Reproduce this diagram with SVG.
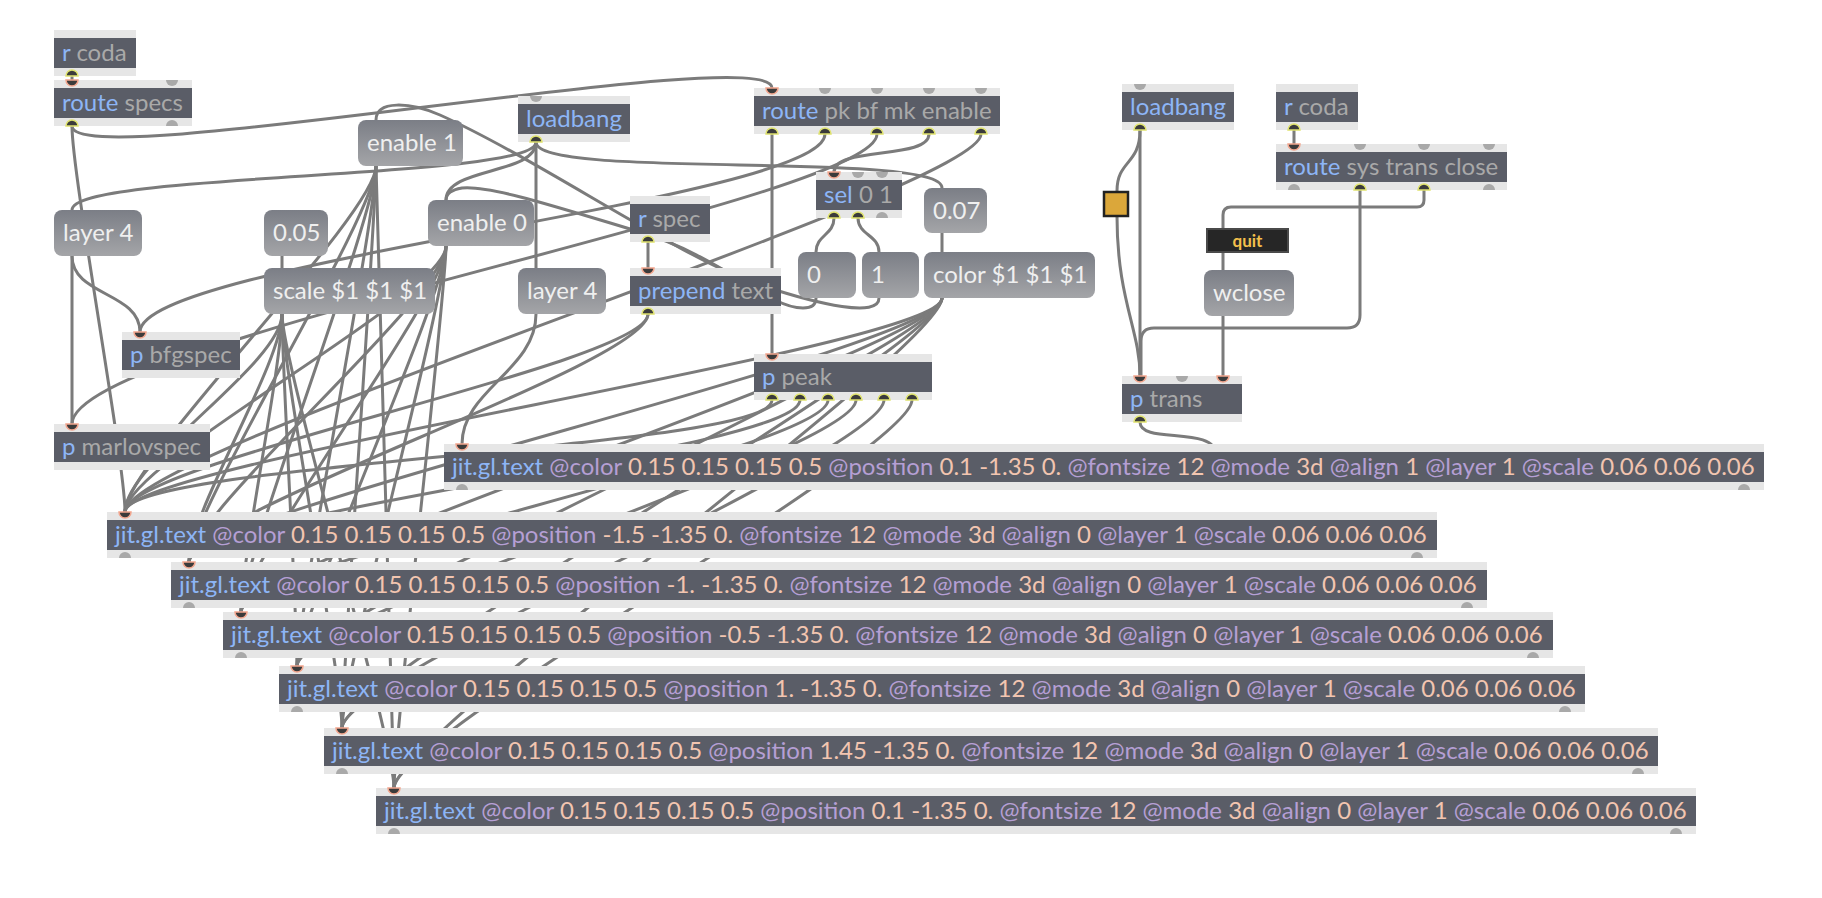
<svg xmlns="http://www.w3.org/2000/svg" xmlns:xlink="http://www.w3.org/1999/xlink" width="1822" height="898" viewBox="0 0 1822 898">
<style>
.b{fill:#5a5d67}
.s{fill:#e6e6e6}
.m{fill:url(#g)}
text{font-family:Lato,"Noto Sans","DejaVu Sans",sans-serif;font-size:24px}
.n{fill:#8db5f6}
.a{fill:#a9a9a9}
.k{fill:#b59fd4}
.v{fill:#f2c5b0}
.mt{fill:#efefef}
.w{fill:none;stroke:#7b7b7b;stroke-width:3;stroke-linecap:round}
.pi{fill:#3b3b3b;stroke:#f2a58d;stroke-width:1.5}
.po{fill:#3b3b3b;stroke:#dfe26e;stroke-width:1.5}
.pg{fill:#a9a9a9}
</style>
<defs>
<linearGradient id="g" x1="0" y1="0" x2="0" y2="1"><stop offset="0" stop-color="#7b7e86"/><stop offset="1" stop-color="#a4a5a8"/></linearGradient>
<path id="pin" d="M-6,0A6,6 0 0 0 6,0Z"/>
<path id="pout" d="M-6,0A6,6 0 0 1 6,0Z"/>
</defs>
<rect width="1822" height="898" fill="#ffffff"/>
<g id="connectors" class="w">
<path d="M72,76L72,80"/>
<path d="M72,126C72,175 772,40 772,88"/>
<path d="M72,126C72,176 125,462 125,512"/>
<path d="M72,256L72,424"/>
<path d="M72,256C72,296 140,292 140,332"/>
<path d="M536,142C536,180 72,172 72,210"/>
<path d="M536,142C536,175 446,167 446,200"/>
<path d="M536,142L536,268"/>
<path d="M536,142C536,180 942,150 942,188"/>
<path d="M282,256L282,268"/>
<path d="M942,233L942,252"/>
<path d="M648,242L648,268"/>
<path d="M772,134L772,354"/>
<path d="M825,134C825,200 140,262 140,332"/>
<path d="M877,134C877,200 72,340 72,424"/>
<path d="M929,134C929,160 834,146 834,172"/>
<path d="M981,134C981,190 125,450 125,512"/>
<path d="M834,218C834,235 816,235 816,252"/>
<path d="M858,218C858,235 879,235 879,252"/>
<path d="M816,298C816,312 795,310 775,300C740,282 700,250 640,232C560,208 490,185 462,188C450,190 446,194 446,200"/>
<path d="M879,298C879,318 820,305 760,285C680,258 540,160 440,115C410,102 376,100 376,120"/>
<path d="M536,314C536,370 462,390 462,444"/>
<path d="M648,314C648,364 125,462 125,512"/>
<path d="M648,314C648,364 189,512 189,562"/>
<path d="M376,166C376,216 125,462 125,512"/>
<path d="M376,166C376,216 189,512 189,562"/>
<path d="M376,166C376,216 241,562 241,612"/>
<path d="M376,166C376,216 297,616 297,666"/>
<path d="M376,166C376,216 342,678 342,728"/>
<path d="M376,166C376,216 394,738 394,788"/>
<path d="M446,246C446,296 125,462 125,512"/>
<path d="M446,246C446,296 189,512 189,562"/>
<path d="M446,246C446,296 241,562 241,612"/>
<path d="M446,246C446,296 297,616 297,666"/>
<path d="M446,246C446,296 342,678 342,728"/>
<path d="M446,246C446,296 394,738 394,788"/>
<path d="M282,314C282,364 125,462 125,512"/>
<path d="M282,314C282,364 189,512 189,562"/>
<path d="M282,314C282,364 241,562 241,612"/>
<path d="M282,314C282,364 297,616 297,666"/>
<path d="M282,314C282,364 342,678 342,728"/>
<path d="M282,314C282,364 394,738 394,788"/>
<path d="M942,298C942,348 125,462 125,512"/>
<path d="M942,298C942,348 189,512 189,562"/>
<path d="M942,298C942,348 241,562 241,612"/>
<path d="M942,298C942,348 297,616 297,666"/>
<path d="M942,298C942,348 342,678 342,728"/>
<path d="M942,298C942,348 394,738 394,788"/>
<path d="M772,400C772,450 125,462 125,512"/>
<path d="M800,400C800,450 189,512 189,562"/>
<path d="M828,400C828,450 241,562 241,612"/>
<path d="M856,400C856,450 297,616 297,666"/>
<path d="M884,400C884,450 342,678 342,728"/>
<path d="M912,400C912,450 394,738 394,788"/>
<path d="M1294,130L1294,144"/>
<path d="M1140,130C1140,165 1117,160 1117,191"/>
<path d="M1117,216C1117,300 1140,330 1140,376"/>
<path d="M1140,130L1140,376"/>
<path d="M1360,190V315Q1360,328 1347,328H1154Q1141,328 1141,341V376"/>
<path d="M1424,190V200Q1424,207 1417,207H1231Q1223,207 1223,215V270"/>
<path d="M1223,316L1223,376"/>
<path d="M1140,422C1140,445 1216,425 1216,455"/>
</g>
<g id="rcoda1"><rect class="s" x="54" y="30" width="82" height="46"/><rect class="b" x="54" y="38" width="82" height="30"/><text x="62" y="61"><tspan class="n">r</tspan><tspan class="a"> coda</tspan></text><use xlink:href="#pout" x="72" y="76" class="po"/></g>
<g id="routespecs"><rect class="s" x="54" y="80" width="138" height="46"/><rect class="b" x="54" y="88" width="138" height="30"/><text x="62" y="111"><tspan class="n">route</tspan><tspan class="a"> specs</tspan></text><use xlink:href="#pin" x="72" y="80" class="pi"/><use xlink:href="#pin" x="172" y="80" class="pg"/><use xlink:href="#pout" x="72" y="126" class="po"/><use xlink:href="#pout" x="172" y="126" class="pg"/></g>
<g id="enable1"><rect class="m" x="358" y="120" width="105" height="46" rx="8"/><text class="mt" x="367" y="151">enable 1</text></g>
<g id="loadbang1"><rect class="s" x="518" y="96" width="112" height="46"/><rect class="b" x="518" y="104" width="112" height="30"/><text class="n" x="526" y="127">loadbang</text><use xlink:href="#pin" x="536" y="96" class="pg"/><use xlink:href="#pout" x="536" y="142" class="po"/></g>
<g id="layer4L"><rect class="m" x="54" y="210" width="88" height="46" rx="8"/><text class="mt" x="63" y="241">layer 4</text></g>
<g id="m005"><rect class="m" x="264" y="210" width="64" height="46" rx="8"/><text class="mt" x="273" y="241">0.05</text></g>
<g id="enable0"><rect class="m" x="428" y="200" width="106" height="46" rx="8"/><text class="mt" x="437" y="231">enable 0</text></g>
<g id="scale"><rect class="m" x="264" y="268" width="171" height="46" rx="8"/><text class="mt" x="273" y="299">scale $1 $1 $1</text></g>
<g id="layer4R"><rect class="m" x="518" y="268" width="88" height="46" rx="8"/><text class="mt" x="527" y="299">layer 4</text></g>
<g id="rspec"><rect class="s" x="630" y="196" width="80" height="46"/><rect class="b" x="630" y="204" width="80" height="30"/><text x="638" y="227"><tspan class="n">r</tspan><tspan class="a"> spec</tspan></text><use xlink:href="#pout" x="648" y="242" class="po"/></g>
<g id="prepend"><rect class="s" x="630" y="268" width="151" height="46"/><rect class="b" x="630" y="276" width="151" height="30"/><text x="638" y="299"><tspan class="n">prepend</tspan><tspan class="a"> text</tspan></text><use xlink:href="#pin" x="648" y="268" class="pi"/><use xlink:href="#pout" x="648" y="314" class="po"/></g>
<g id="routepk"><rect class="s" x="754" y="88" width="246" height="46"/><rect class="b" x="754" y="96" width="246" height="30"/><text x="762" y="119"><tspan class="n">route</tspan><tspan class="a"> pk bf mk enable</tspan></text><use xlink:href="#pin" x="772" y="88" class="pi"/><use xlink:href="#pin" x="825" y="88" class="pg"/><use xlink:href="#pin" x="877" y="88" class="pg"/><use xlink:href="#pin" x="929" y="88" class="pg"/><use xlink:href="#pin" x="981" y="88" class="pg"/><use xlink:href="#pout" x="772" y="134" class="po"/><use xlink:href="#pout" x="825" y="134" class="po"/><use xlink:href="#pout" x="877" y="134" class="po"/><use xlink:href="#pout" x="929" y="134" class="po"/><use xlink:href="#pout" x="981" y="134" class="po"/></g>
<g id="sel"><rect class="s" x="816" y="172" width="86" height="46"/><rect class="b" x="816" y="180" width="86" height="30"/><text x="824" y="203"><tspan class="n">sel</tspan><tspan class="a"> 0 1</tspan></text><use xlink:href="#pin" x="834" y="172" class="pi"/><use xlink:href="#pin" x="858" y="172" class="pg"/><use xlink:href="#pin" x="882" y="172" class="pg"/><use xlink:href="#pout" x="834" y="218" class="po"/><use xlink:href="#pout" x="858" y="218" class="po"/><use xlink:href="#pout" x="882" y="218" class="pg"/></g>
<g id="m007"><rect class="m" x="924" y="188" width="63" height="45" rx="8"/><text class="mt" x="933" y="219">0.07</text></g>
<g id="msg0"><rect class="m" x="798" y="252" width="58" height="46" rx="8"/><text class="mt" x="807" y="283">0</text></g>
<g id="msg1"><rect class="m" x="862" y="252" width="57" height="46" rx="8"/><text class="mt" x="871" y="283">1</text></g>
<g id="color"><rect class="m" x="924" y="252" width="171" height="46" rx="8"/><text class="mt" x="933" y="283">color $1 $1 $1</text></g>
<g id="ppeak"><rect class="s" x="754" y="354" width="178" height="46"/><rect class="b" x="754" y="362" width="178" height="30"/><text x="762" y="385"><tspan class="n">p</tspan><tspan class="a"> peak</tspan></text><use xlink:href="#pin" x="772" y="354" class="pi"/><use xlink:href="#pout" x="772" y="400" class="po"/><use xlink:href="#pout" x="800" y="400" class="po"/><use xlink:href="#pout" x="828" y="400" class="po"/><use xlink:href="#pout" x="856" y="400" class="po"/><use xlink:href="#pout" x="884" y="400" class="po"/><use xlink:href="#pout" x="912" y="400" class="po"/></g>
<g id="bfgspec"><rect class="s" x="122" y="332" width="118" height="46"/><rect class="b" x="122" y="340" width="118" height="30"/><text x="130" y="363"><tspan class="n">p</tspan><tspan class="a"> bfgspec</tspan></text><use xlink:href="#pin" x="140" y="332" class="pi"/></g>
<g id="marlovspec"><rect class="s" x="54" y="424" width="156" height="46"/><rect class="b" x="54" y="432" width="156" height="30"/><text x="62" y="455"><tspan class="n">p</tspan><tspan class="a"> marlovspec</tspan></text><use xlink:href="#pin" x="72" y="424" class="pi"/></g>
<g id="row1"><rect class="s" x="444" y="444" width="1320" height="46"/><rect class="b" x="444" y="452" width="1320" height="30"/><text x="452" y="475"><tspan class="n">jit.gl.text</tspan><tspan class="k"> @color</tspan><tspan class="v"> 0.15 0.15 0.15 0.5</tspan><tspan class="k"> @position</tspan><tspan class="v"> 0.1 -1.35 0.</tspan><tspan class="k"> @fontsize</tspan><tspan class="v"> 12</tspan><tspan class="k"> @mode</tspan><tspan class="v"> 3d</tspan><tspan class="k"> @align</tspan><tspan class="v"> 1</tspan><tspan class="k"> @layer</tspan><tspan class="v"> 1</tspan><tspan class="k"> @scale</tspan><tspan class="v"> 0.06 0.06 0.06</tspan></text><use xlink:href="#pin" x="462" y="444" class="pi"/><use xlink:href="#pout" x="462" y="490" class="pg"/><use xlink:href="#pout" x="1744" y="490" class="pg"/></g>
<g id="row2"><rect class="s" x="107" y="512" width="1330" height="46"/><rect class="b" x="107" y="520" width="1330" height="30"/><text x="115" y="543"><tspan class="n">jit.gl.text</tspan><tspan class="k"> @color</tspan><tspan class="v"> 0.15 0.15 0.15 0.5</tspan><tspan class="k"> @position</tspan><tspan class="v"> -1.5 -1.35 0.</tspan><tspan class="k"> @fontsize</tspan><tspan class="v"> 12</tspan><tspan class="k"> @mode</tspan><tspan class="v"> 3d</tspan><tspan class="k"> @align</tspan><tspan class="v"> 0</tspan><tspan class="k"> @layer</tspan><tspan class="v"> 1</tspan><tspan class="k"> @scale</tspan><tspan class="v"> 0.06 0.06 0.06</tspan></text><use xlink:href="#pin" x="125" y="512" class="pi"/><use xlink:href="#pout" x="125" y="558" class="pg"/><use xlink:href="#pout" x="1417" y="558" class="pg"/></g>
<g id="row3"><rect class="s" x="171" y="562" width="1316" height="46"/><rect class="b" x="171" y="570" width="1316" height="30"/><text x="179" y="593"><tspan class="n">jit.gl.text</tspan><tspan class="k"> @color</tspan><tspan class="v"> 0.15 0.15 0.15 0.5</tspan><tspan class="k"> @position</tspan><tspan class="v"> -1. -1.35 0.</tspan><tspan class="k"> @fontsize</tspan><tspan class="v"> 12</tspan><tspan class="k"> @mode</tspan><tspan class="v"> 3d</tspan><tspan class="k"> @align</tspan><tspan class="v"> 0</tspan><tspan class="k"> @layer</tspan><tspan class="v"> 1</tspan><tspan class="k"> @scale</tspan><tspan class="v"> 0.06 0.06 0.06</tspan></text><use xlink:href="#pin" x="189" y="562" class="pi"/><use xlink:href="#pout" x="189" y="608" class="pg"/><use xlink:href="#pout" x="1467" y="608" class="pg"/></g>
<g id="row4"><rect class="s" x="223" y="612" width="1330" height="46"/><rect class="b" x="223" y="620" width="1330" height="30"/><text x="231" y="643"><tspan class="n">jit.gl.text</tspan><tspan class="k"> @color</tspan><tspan class="v"> 0.15 0.15 0.15 0.5</tspan><tspan class="k"> @position</tspan><tspan class="v"> -0.5 -1.35 0.</tspan><tspan class="k"> @fontsize</tspan><tspan class="v"> 12</tspan><tspan class="k"> @mode</tspan><tspan class="v"> 3d</tspan><tspan class="k"> @align</tspan><tspan class="v"> 0</tspan><tspan class="k"> @layer</tspan><tspan class="v"> 1</tspan><tspan class="k"> @scale</tspan><tspan class="v"> 0.06 0.06 0.06</tspan></text><use xlink:href="#pin" x="241" y="612" class="pi"/><use xlink:href="#pout" x="241" y="658" class="pg"/><use xlink:href="#pout" x="1533" y="658" class="pg"/></g>
<g id="row5"><rect class="s" x="279" y="666" width="1306" height="46"/><rect class="b" x="279" y="674" width="1306" height="30"/><text x="287" y="697"><tspan class="n">jit.gl.text</tspan><tspan class="k"> @color</tspan><tspan class="v"> 0.15 0.15 0.15 0.5</tspan><tspan class="k"> @position</tspan><tspan class="v"> 1. -1.35 0.</tspan><tspan class="k"> @fontsize</tspan><tspan class="v"> 12</tspan><tspan class="k"> @mode</tspan><tspan class="v"> 3d</tspan><tspan class="k"> @align</tspan><tspan class="v"> 0</tspan><tspan class="k"> @layer</tspan><tspan class="v"> 1</tspan><tspan class="k"> @scale</tspan><tspan class="v"> 0.06 0.06 0.06</tspan></text><use xlink:href="#pin" x="297" y="666" class="pi"/><use xlink:href="#pout" x="297" y="712" class="pg"/><use xlink:href="#pout" x="1565" y="712" class="pg"/></g>
<g id="row6"><rect class="s" x="324" y="728" width="1334" height="46"/><rect class="b" x="324" y="736" width="1334" height="30"/><text x="332" y="759"><tspan class="n">jit.gl.text</tspan><tspan class="k"> @color</tspan><tspan class="v"> 0.15 0.15 0.15 0.5</tspan><tspan class="k"> @position</tspan><tspan class="v"> 1.45 -1.35 0.</tspan><tspan class="k"> @fontsize</tspan><tspan class="v"> 12</tspan><tspan class="k"> @mode</tspan><tspan class="v"> 3d</tspan><tspan class="k"> @align</tspan><tspan class="v"> 0</tspan><tspan class="k"> @layer</tspan><tspan class="v"> 1</tspan><tspan class="k"> @scale</tspan><tspan class="v"> 0.06 0.06 0.06</tspan></text><use xlink:href="#pin" x="342" y="728" class="pi"/><use xlink:href="#pout" x="342" y="774" class="pg"/><use xlink:href="#pout" x="1638" y="774" class="pg"/></g>
<g id="row7"><rect class="s" x="376" y="788" width="1320" height="46"/><rect class="b" x="376" y="796" width="1320" height="30"/><text x="384" y="819"><tspan class="n">jit.gl.text</tspan><tspan class="k"> @color</tspan><tspan class="v"> 0.15 0.15 0.15 0.5</tspan><tspan class="k"> @position</tspan><tspan class="v"> 0.1 -1.35 0.</tspan><tspan class="k"> @fontsize</tspan><tspan class="v"> 12</tspan><tspan class="k"> @mode</tspan><tspan class="v"> 3d</tspan><tspan class="k"> @align</tspan><tspan class="v"> 0</tspan><tspan class="k"> @layer</tspan><tspan class="v"> 1</tspan><tspan class="k"> @scale</tspan><tspan class="v"> 0.06 0.06 0.06</tspan></text><use xlink:href="#pin" x="394" y="788" class="pi"/><use xlink:href="#pout" x="394" y="834" class="pg"/><use xlink:href="#pout" x="1676" y="834" class="pg"/></g>
<g id="loadbang2"><rect class="s" x="1122" y="84" width="112" height="46"/><rect class="b" x="1122" y="92" width="112" height="30"/><text class="n" x="1130" y="115">loadbang</text><use xlink:href="#pin" x="1140" y="84" class="pg"/><use xlink:href="#pout" x="1140" y="130" class="po"/></g>
<g id="toggle"><rect x="1104" y="192" width="24" height="24" fill="#dba73a" stroke="#222222" stroke-width="2.5"/></g>
<g id="rcoda2"><rect class="s" x="1276" y="84" width="82" height="46"/><rect class="b" x="1276" y="92" width="82" height="30"/><text x="1284" y="115"><tspan class="n">r</tspan><tspan class="a"> coda</tspan></text><use xlink:href="#pout" x="1294" y="130" class="po"/></g>
<g id="routesys"><rect class="s" x="1276" y="144" width="231" height="46"/><rect class="b" x="1276" y="152" width="231" height="30"/><text x="1284" y="175"><tspan class="n">route</tspan><tspan class="a"> sys trans close</tspan></text><use xlink:href="#pin" x="1294" y="144" class="pi"/><use xlink:href="#pin" x="1360" y="144" class="pg"/><use xlink:href="#pin" x="1424" y="144" class="pg"/><use xlink:href="#pin" x="1489" y="144" class="pg"/><use xlink:href="#pout" x="1294" y="190" class="pg"/><use xlink:href="#pout" x="1360" y="190" class="po"/><use xlink:href="#pout" x="1424" y="190" class="po"/><use xlink:href="#pout" x="1489" y="190" class="pg"/></g>
<g id="quit"><rect x="1207" y="229" width="81" height="23" fill="#262626" stroke="#4a4a4a" stroke-width="2"/><text x="1247.5" y="247" text-anchor="middle" style="font-size:17px;font-weight:bold;fill:#f4c04c">quit</text></g>
<g id="wclose"><rect class="m" x="1204" y="270" width="90" height="46" rx="8"/><text class="mt" x="1213" y="301">wclose</text></g>
<g id="ptrans"><rect class="s" x="1122" y="376" width="120" height="46"/><rect class="b" x="1122" y="384" width="120" height="30"/><text x="1130" y="407"><tspan class="n">p</tspan><tspan class="a"> trans</tspan></text><use xlink:href="#pin" x="1140" y="376" class="pi"/><use xlink:href="#pin" x="1182" y="376" class="pg"/><use xlink:href="#pin" x="1223" y="376" class="pi"/><use xlink:href="#pout" x="1140" y="422" class="po"/></g>
</svg>
